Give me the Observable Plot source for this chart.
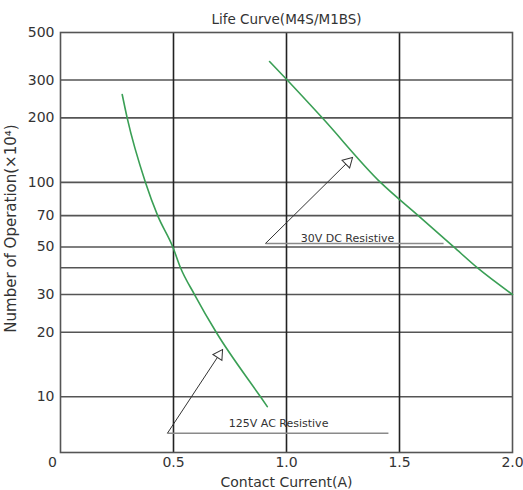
<!DOCTYPE html>
<html><head><meta charset="utf-8">
<script src="https://cdn.jsdelivr.net/npm/d3@7"></script>
<script src="https://cdn.jsdelivr.net/npm/@observablehq/plot@0.6"></script>
<style>body{margin:0;background:#fff} svg{display:block}</style>
</head><body><div id="chart"></div>
<script>
// ---- data ----
const title = "Life Curve(M4S/M1BS)";
const xLabel = "Contact Current(A)";
const yLabel = "Number of Operation(×10⁴)";
const xTicks = [0.5, 1.0, 1.5, 2.0];
const xOrigin = [0];
const yTicks = [10, 20, 30, 50, 70, 100, 200, 300, 500];
const yGrid = [10, 20, 30, 40, 50, 70, 100, 200, 300];
const xGrid = [0.5, 1.0, 1.5];

const acCurrent = [0.273, 0.295, 0.376, 0.430, 0.497, 0.531, 0.593, 0.689, 0.885, 0.915];
const acLife    = [257,   200,   100,   70,    50,    40,    30,    20,    10,    9.0];
const dcCurrent = [0.925, 1.003, 1.158, 1.416, 1.583, 1.740, 1.844, 2.0];
const dcLife    = [366,   300,   200,   100,   70,    50,    40,    30];

const annLabels = ["125V AC Resistive", "30V DC Resistive"];
const annLineX1 = [0.473, 0.907];
const annLineX2 = [1.451, 1.695];
const annLineY  = [6.76, 51.9];
const annTipX   = [0.717, 1.292];
const annTipY   = [16.6, 130.6];
const annTextX  = [0.965, 1.270];
const annTextY  = [7.50, 55.0];

// ---- tables ----
const ac = acCurrent.map((c, i) => ({c, v: acLife[i]}));
const dc = dcCurrent.map((c, i) => ({c, v: dcLife[i]}));
const ann = annLabels.map((label, i) => ({
  label, x1: annLineX1[i], x2: annLineX2[i], y: annLineY[i],
  tipX: annTipX[i], tipY: annTipY[i], tx: annTextX[i], ty: annTextY[i]
}));

const green = "#3a9f55";
const font = "DejaVu Sans";

function build(extra) {
  return Plot.plot({
    width: 523, height: 490,
    marginTop: 32, marginBottom: 38, marginLeft: 60, marginRight: 11,
    style: {fontFamily: font, fontSize: "13px", color: "#333", background: "#fff"},
    x: {domain: [0, 2], axis: null},
    y: {type: "log", domain: [5.5, 500], axis: null},
    marks: [
      Plot.ruleY(yGrid, {stroke: "#555", strokeWidth: 1.6}),
      Plot.ruleX(xGrid, {stroke: "#222", strokeWidth: 1.6}),
      Plot.frame({stroke: "#555", strokeWidth: 1.6}),
      // x tick labels
      Plot.text(xTicks, {x: d => d, text: d => d3.format(".1f")(d), frameAnchor: "bottom", lineAnchor: "middle", dy: 10, fontSize: 14, fill: "#333"}),
      Plot.text(xOrigin, {x: d => d, text: d => String(d), frameAnchor: "bottom", lineAnchor: "middle", dy: 10, dx: -8, fontSize: 14, fill: "#333"}),
      // y tick labels
      Plot.text(yTicks, {y: d => d, text: d => String(d), frameAnchor: "left", textAnchor: "end", dx: -6, fontSize: 14, fill: "#333"}),
      Plot.line(ac, {x: "c", y: "v", stroke: green, strokeWidth: 1.6, curve: "monotone-x"}),
      Plot.line(dc, {x: "c", y: "v", stroke: green, strokeWidth: 1.6, curve: "monotone-x"}),
      Plot.link(ann, {x1: "x1", x2: "x2", y1: "y", y2: "y", stroke: "#8a8a8a", strokeWidth: 1.5}),
      Plot.link(ann, {x1: "x1", y1: "y", x2: "tipX", y2: "tipY", stroke: "#333", strokeWidth: 1}),
      Plot.text(ann, {x: "tx", y: "ty", text: "label", fontSize: 11, fill: "#333"}),
      Plot.text([title], {text: d => d, frameAnchor: "top", lineAnchor: "middle", dy: -13, fontSize: 13.5, fill: "#333"}),
      Plot.text([xLabel], {text: d => d, frameAnchor: "bottom", lineAnchor: "middle", dy: 30, fontSize: 14, fill: "#333"}),
      Plot.text([yLabel], {text: d => d, frameAnchor: "left", textAnchor: "middle", lineAnchor: "middle", rotate: -90, dx: -49, dy: -14, fontSize: 15, fill: "#333"}),
      ...extra
    ]
  });
}

// first pass to read the scales, then add open-triangle arrowheads
const probe = build([]);
const sx = probe.scale("x"), sy = probe.scale("y");
const heads = ann.map(a => {
  const px0 = sx.apply(a.x1), py0 = sy.apply(a.y);
  const px1 = sx.apply(a.tipX), py1 = sy.apply(a.tipY);
  const len = Math.hypot(px1 - px0, py1 - py0);
  const ux = (px1 - px0) / len, uy = (py1 - py0) / len;
  const r = 4;
  const h = Math.sqrt(r * r * Math.PI / (Math.sqrt(3) * 3)); // centroid-to-base
  const ang = Math.atan2(ux, -uy) * 180 / Math.PI;
  return Plot.dot([a], {x: "tipX", y: "tipY", symbol: "triangle", r, fill: "white", stroke: "#333",
    strokeWidth: 1, rotate: ang, dx: -2 * h * ux, dy: -2 * h * uy});
});
document.getElementById("chart").append(build(heads));
</script>
</body></html>
